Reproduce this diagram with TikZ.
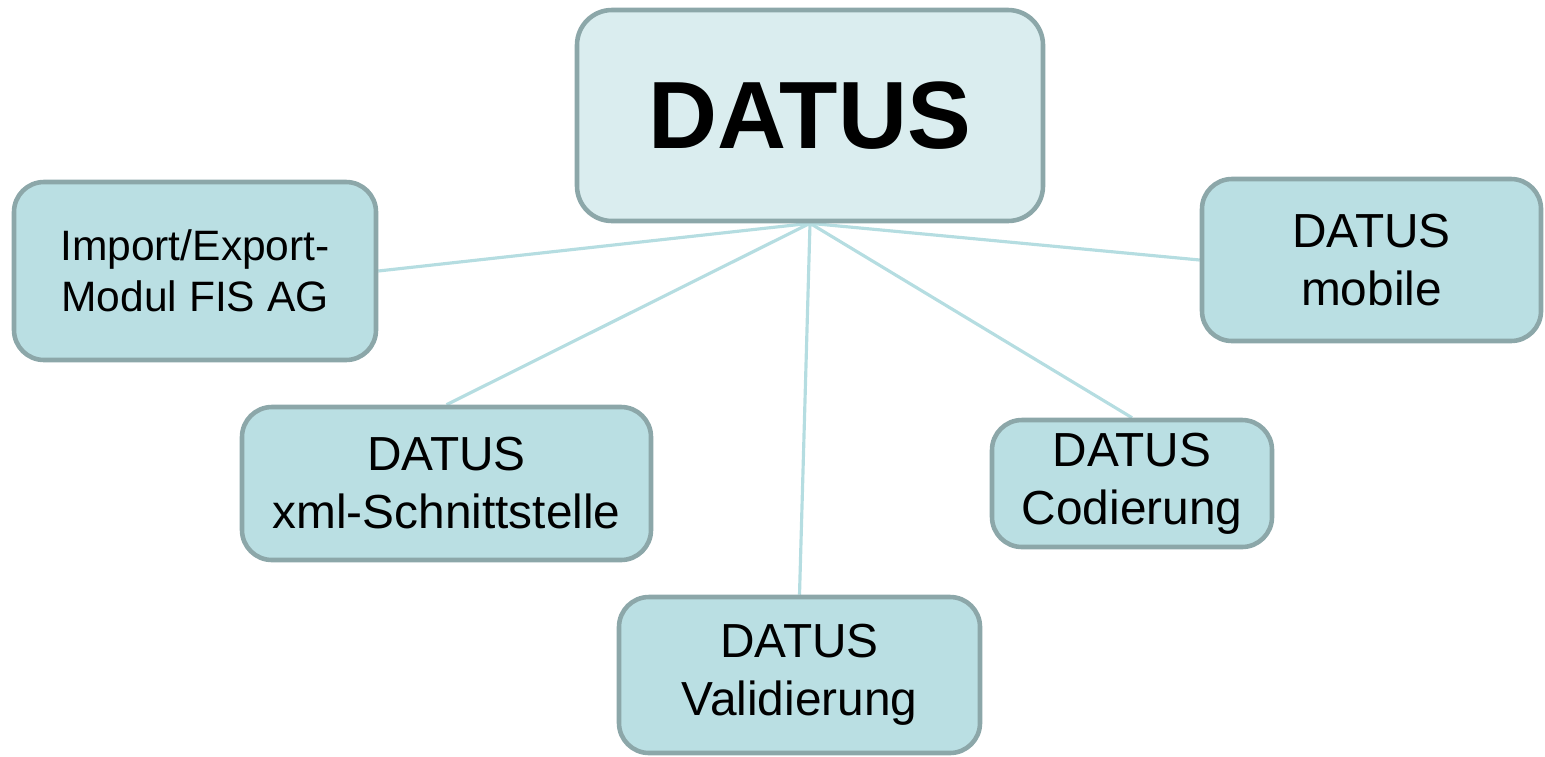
\documentclass[tikz,border=0pt]{standalone}
\usepackage{fontspec}
\setmainfont{Liberation Sans}
\usetikzlibrary{backgrounds}

\definecolor{boxfill}{HTML}{BADFE3}
\definecolor{topfill}{HTML}{DAEDEF}
\definecolor{boxline}{HTML}{8CA7A9}
\definecolor{linkline}{HTML}{B5DDE1}

\tikzset{
  module/.style={draw=boxline, fill=boxfill, line width=1.3pt, rectangle, rounded corners=0.3cm, align=center, font=\fontsize{13.6}{16.5}\selectfont},
  link/.style={draw=linkline, line width=0.9pt}
}

\begin{document}
\begin{tikzpicture}
\useasboundingbox (0,0) rectangle (15.45,-7.56);
% Main box
\node[module, fill=topfill, rounded corners=0.35cm, minimum width=4.66cm, minimum height=2.11cm, font=\fontsize{27.2}{32}\selectfont\bfseries] (datus) at (8.10,-1.155) {DATUS};

% Modules
\node[module, minimum width=3.62cm, minimum height=1.78cm, font=\fontsize{12.1}{14.6}\selectfont] (import) at (1.95,-2.71) {Import/Export-\\Modul FIS AG};
\node[module, minimum width=3.39cm, minimum height=1.62cm] (mobile) at (13.715,-2.60) {DATUS\\mobile};
\node[module, minimum width=4.09cm, minimum height=1.53cm] (xml) at (4.465,-4.835) {DATUS\\xml-Schnittstelle};
\node[module, minimum width=2.80cm, minimum height=1.27cm] (codierung) at (11.32,-4.835) {DATUS\\Codierung};
\node[module, minimum width=3.61cm, minimum height=1.56cm] (valid) at (7.995,-6.75) {DATUS\\Validierung};

% Links
\begin{scope}[on background layer]
\draw[link] (datus.south) -- (import.east);
\draw[link] (datus.south) -- (xml.north);
\draw[link] (datus.south) -- (valid.north);
\draw[link] (datus.south) -- (codierung.north);
\draw[link] (datus.south) -- (mobile.west);
\end{scope}
\end{tikzpicture}
\end{document}
